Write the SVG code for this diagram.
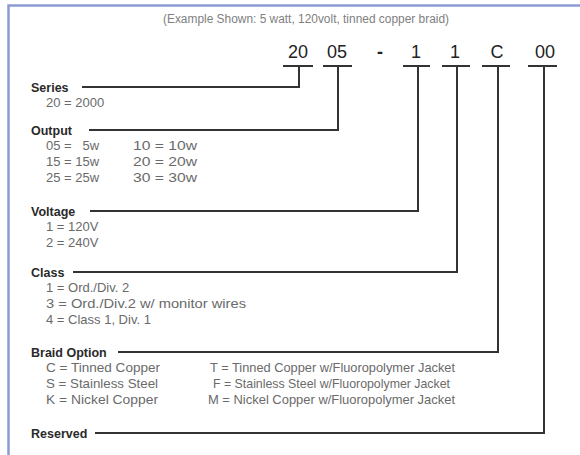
<svg xmlns="http://www.w3.org/2000/svg" width="580" height="455" viewBox="0 0 580 455">
<style>
.t{font-family:"Liberation Sans",Arial,sans-serif;white-space:pre;}
.title{font-size:12px;fill:#808080;}
.code{font-size:18px;fill:#222;}
.lbl{font-size:12.5px;fill:#2a2a2a;font-weight:bold;}
.val{font-size:13px;fill:#6a6a6a;}
.ln{stroke:#333;stroke-width:2;fill:none;}
</style>
<rect x="0" y="0" width="580" height="455" fill="#fff"/>
<path d="M8.5,455 V5.5 H580" fill="none" stroke="#8c9bd3" stroke-width="2.5"/>
<text class="t title" x="163" y="23" textLength="286" lengthAdjust="spacingAndGlyphs">(Example Shown: 5 watt, 120volt, tinned copper braid)</text>
<g id="code">
<text class="t code" x="298" y="58" text-anchor="middle">20</text>
<text class="t code" x="337" y="58" text-anchor="middle">05</text>
<text class="t code" x="380" y="58" text-anchor="middle" font-weight="bold">-</text>
<text class="t code" x="416" y="58" text-anchor="middle">1</text>
<text class="t code" x="455" y="58" text-anchor="middle">1</text>
<text class="t code" x="497" y="58" text-anchor="middle">C</text>
<text class="t code" x="545" y="58" text-anchor="middle">00</text>
</g>
<g id="connectors">
<path class="ln" d="M283,66 H313 M323,66 H352 M403,66 H430 M442,66 H470 M482,66 H510 M528,66 H557"/>
<path class="ln" d="M82,87 H299 V66"/>
<path class="ln" d="M89,130 H338 V66"/>
<path class="ln" d="M90,211 H418 V66"/>
<path class="ln" d="M73,272 H457 V66"/>
<path class="ln" d="M118,352 H498 V66"/>
<path class="ln" d="M95,433 H544 V66"/>
</g>
<g id="series">
<text class="t lbl" x="31" y="92">Series</text>
<text class="t val" x="46" y="107">20 = 2000</text>
</g>
<g id="output">
<text class="t lbl" x="31" y="135">Output</text>
<text class="t val" x="46" y="150">05 =   5w</text>
<text class="t val" x="133" y="150" textLength="64" lengthAdjust="spacingAndGlyphs">10 = 10w</text>
<text class="t val" x="46" y="166">15 = 15w</text>
<text class="t val" x="133" y="166" textLength="64" lengthAdjust="spacingAndGlyphs">20 = 20w</text>
<text class="t val" x="46" y="182">25 = 25w</text>
<text class="t val" x="133" y="182" textLength="64" lengthAdjust="spacingAndGlyphs">30 = 30w</text>
</g>
<g id="voltage">
<text class="t lbl" x="31" y="216">Voltage</text>
<text class="t val" x="46" y="231">1 = 120V</text>
<text class="t val" x="46" y="247">2 = 240V</text>
</g>
<g id="class">
<text class="t lbl" x="31" y="277">Class</text>
<text class="t val" x="46" y="292">1 = Ord./Div. 2</text>
<text class="t val" x="46" y="308" textLength="200" lengthAdjust="spacingAndGlyphs">3 = Ord./Div.2 w/ monitor wires</text>
<text class="t val" x="46" y="324">4 = Class 1, Div. 1</text>
</g>
<g id="braid">
<text class="t lbl" x="31" y="357">Braid Option</text>
<text class="t val" x="46" y="372" textLength="114" lengthAdjust="spacingAndGlyphs">C = Tinned Copper</text>
<text class="t val" x="46" y="388" textLength="112" lengthAdjust="spacingAndGlyphs">S = Stainless Steel</text>
<text class="t val" x="46" y="404" textLength="112" lengthAdjust="spacingAndGlyphs">K = Nickel Copper</text>
<text class="t val" x="210" y="372" textLength="245" lengthAdjust="spacingAndGlyphs">T = Tinned Copper w/Fluoropolymer Jacket</text>
<text class="t val" x="213" y="388" textLength="237" lengthAdjust="spacingAndGlyphs">F = Stainless Steel w/Fluoropolymer Jacket</text>
<text class="t val" x="208" y="404" textLength="247" lengthAdjust="spacingAndGlyphs">M = Nickel Copper w/Fluoropolymer Jacket</text>
</g>
<g id="reserved">
<text class="t lbl" x="31" y="438">Reserved</text>
</g>
</svg>
